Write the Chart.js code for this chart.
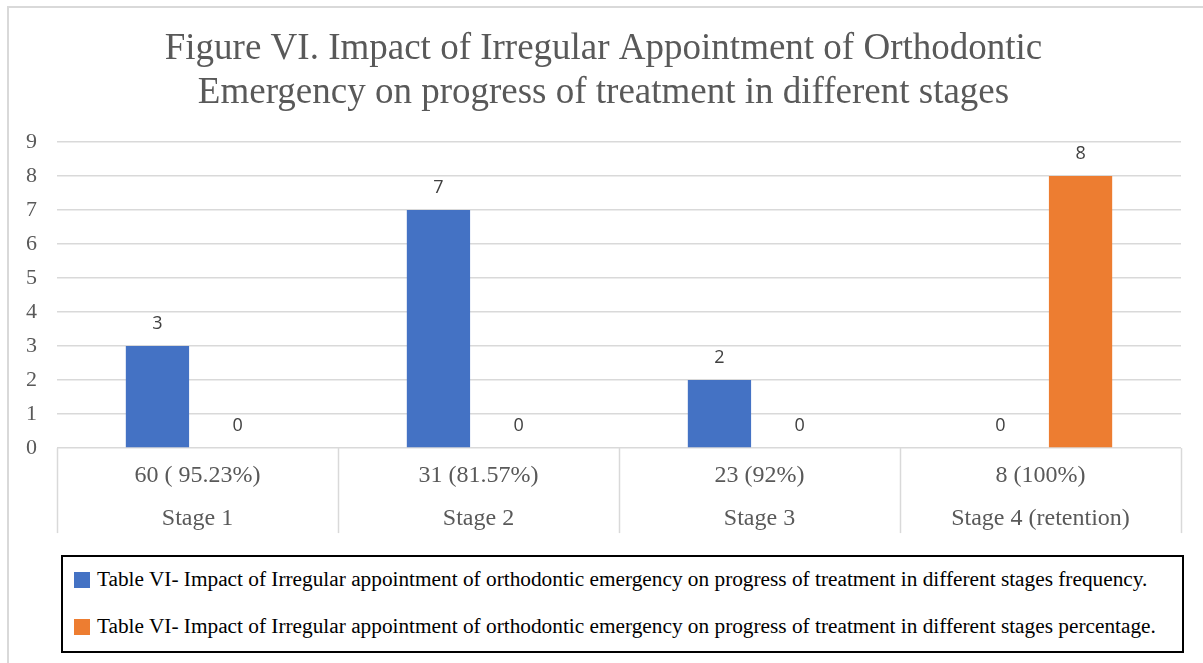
<!DOCTYPE html>
<html>
<head>
<meta charset="utf-8">
<script src="https://cdn.jsdelivr.net/npm/chart.js@4.4.1/dist/chart.umd.min.js"></script>
<style>
  body { margin: 0; background: #fff; }
  #wrap { position: relative; width: 1203px; height: 663px; overflow: hidden; }
  canvas { display: block; }
  #legendBox {
    position: absolute; left: 61px; top: 555px; width: 1119px; height: 94px;
    border: 2.5px solid #000; background: #fff;
    font-family: 'Liberation Serif', 'Times New Roman', serif; font-size: 21.3px; color: #000;
  }
  #legendBox ul { list-style: none; margin: 0; padding: 0; }
  #legendBox li { position: absolute; left: 11px; height: 24px; line-height: 24px; white-space: nowrap; }
  #legendBox li span { display: inline-block; width: 16px; height: 16px; margin-right: 7px; vertical-align: -2px; }
</style>
</head>
<body>
<div id="wrap">
  <canvas id="stageChart" width="1203" height="663"></canvas>
  <div id="legendBox"></div>
</div>
<script>
// === data ===
const counts = ["60 ( 95.23%)", "31 (81.57%)", "23 (92%)", "8 (100%)"];
const stages = ["Stage 1", "Stage 2", "Stage 3", "Stage 4 (retention)"];
const frequency = [3, 7, 2, 0];
const percentage = [0, 0, 0, 8];
const yTicks = [0, 1, 2, 3, 4, 5, 6, 7, 8, 9];
const seriesNames = [
    "Table VI- Impact of Irregular appointment of orthodontic emergency on progress of treatment in different stages frequency.",
    "Table VI- Impact of Irregular appointment of orthodontic emergency on progress of treatment in different stages percentage.",
];

const serif = "'Liberation Serif', 'Times New Roman', serif";

// outer frame + category separators under the axis
const framePlugin = {
    id: "frames",
    beforeDraw(chart) {
        const c = chart.ctx;
        c.save();
        c.strokeStyle = "#d9d9d9";
        c.lineWidth = 2;
        c.strokeRect(8, 7, 1400, 900);
        c.restore();
    },
    afterDraw(chart) {
        const c = chart.ctx;
        const x = chart.scales.x;
        const area = chart.chartArea;
        const step = x.getPixelForValue(1) - x.getPixelForValue(0);
        c.save();
        c.strokeStyle = "#d9d9d9";
        c.lineWidth = 1.5;
        for (let i = 0; i <= stages.length; i++) {
            const px = Math.round(x.getPixelForValue(i) - step / 2) + 0.5;
            c.beginPath();
            c.moveTo(px, area.bottom);
            c.lineTo(px, area.bottom + 85);
            c.stroke();
        }
        c.restore();
    },
};

// value labels above bars
const valueLabels = {
    id: "valueLabels",
    afterDatasetsDraw(chart) {
        const c = chart.ctx;
        c.save();
        c.font = "18px 'Open Sans', sans-serif";
        c.fillStyle = "#404040";
        c.textAlign = "center";
        c.textBaseline = "alphabetic";
        chart.data.datasets.forEach((ds, di) => {
            chart.getDatasetMeta(di).data.forEach((bar, i) => {
                c.fillText(String(ds.data[i]), bar.x, bar.y - 17);
            });
        });
        c.restore();
    },
};

// legend drawn as html in a framed box
const htmlLegend = {
    id: "htmlLegend",
    afterUpdate(chart) {
        const box = document.getElementById("legendBox");
        box.innerHTML = "";
        const ul = document.createElement("ul");
        const items = chart.options.plugins.legend.labels.generateLabels(chart);
        items.forEach((item, i) => {
            const li = document.createElement("li");
            li.style.top = (10 + i * 47) + "px";
            const sw = document.createElement("span");
            sw.style.background = item.fillStyle;
            li.appendChild(sw);
            li.appendChild(document.createTextNode(item.text));
            ul.appendChild(li);
        });
        box.appendChild(ul);
    },
};

const ctx = document.getElementById("stageChart").getContext("2d");
new Chart(ctx, {
    type: "bar",
    data: {
        labels: counts.map((c, i) => [c, stages[i]]),
        datasets: [
            {
                label: seriesNames[0],
                data: frequency,
                backgroundColor: "#4472C4",
                categoryPercentage: 0.57,
                barPercentage: 0.79,
            },
            {
                label: seriesNames[1],
                data: percentage,
                backgroundColor: "#ED7D31",
                categoryPercentage: 0.57,
                barPercentage: 0.79,
            },
        ],
    },
    options: {
        responsive: false,
        animation: false,
        layout: { autoPadding: false, padding: { left: 26, right: 22, top: 27, bottom: 117 } },
        plugins: {
            title: {
                display: true,
                text: [
                    "Figure VI. Impact of Irregular Appointment of Orthodontic",
                    "Emergency on progress of treatment in different stages",
                ],
                color: "#595959",
                font: { family: serif, size: 37, weight: "normal", lineHeight: 1.19 },
                padding: { top: 0, bottom: 27 },
            },
            legend: { display: false },
            tooltip: { enabled: false },
        },
        scales: {
            x: {
                grid: { display: false, drawTicks: false },
                border: { display: false },
                ticks: {
                    color: "#595959",
                    font: { family: serif, size: 24, lineHeight: 1.79 },
                    padding: 6,
                    maxRotation: 0,
                    autoSkip: false,
                },
            },
            y: {
                min: yTicks[0],
                max: yTicks[yTicks.length - 1],
                ticks: {
                    stepSize: 1,
                    color: "#595959",
                    font: { family: serif, size: 22 },
                    padding: 10,
                    crossAlign: "far",
                },
                grid: { color: "#d9d9d9", lineWidth: 1.5, drawTicks: false },
                border: { display: false },
            },
        },
    },
    plugins: [framePlugin, valueLabels, htmlLegend],
});
</script>
</body>
</html>
